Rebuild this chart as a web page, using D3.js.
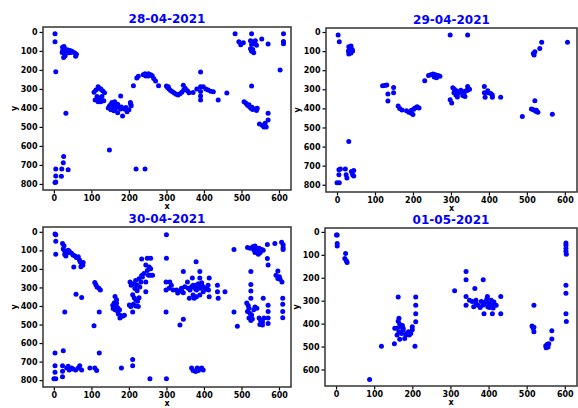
<!DOCTYPE html>
<html>
<head>
<meta charset="utf-8">
<script src="https://cdn.jsdelivr.net/npm/d3@7"></script>
<style>
  body { margin: 0; background: #fff; }
  text { font-family: "DejaVu Sans", sans-serif; }
</style>
</head>
<body>
<div id="chart"></div>
<script>
// tracked points per day, [x, y]
let titles = ['28-04-2021', '29-04-2021', '30-04-2021', '01-05-2021'];
let xTicks = [0, 100, 200, 300, 400, 500, 600];
let yTicksFull = [0, 100, 200, 300, 400, 500, 600, 700, 800];
let yTicksShort = [0, 100, 200, 300, 400, 500, 600];

let day1 = [
  [3,10],[3,51],[5,210],
  [23,80],[27,77],[30,95],[23,100],[22,108],[27,112],[32,92],[35,100],[38,95],[42,98],[45,100],[48,102],[45,108],[29,100],[30,125],[26,135],[40,110],[55,110],[60,118],[58,128],
  [32,428],
  [3,793],[5,790],[5,758],[5,722],[20,760],[21,722],[25,688],[26,656],[38,726],
  [107,318],[112,305],[118,288],[125,300],[130,310],[115,340],[122,348],[128,340],[135,320],[110,358],[118,367],[125,367],[133,362],[124,300],
  [178,337],
  [145,400],[148,390],[152,380],[155,372],[158,388],[162,367],[166,392],[170,380],[174,395],[178,405],[152,410],[160,415],[170,425],[183,443],[175,398],[200,410],[205,380],[206,388],[204,372],[192,398],[180,395],[188,405],[163,408],[195,420],
  [148,621],[219,722],[243,722],
  [212,283],[221,243],[225,233],
  [238,225],[243,220],[248,225],[252,220],[258,225],[262,230],[252,232],[245,232],[266,245],[271,258],[279,283],
  [300,284],[303,292],[307,300],[311,308],[316,315],[321,322],[326,328],[331,332],[336,325],[341,318],[346,305],[350,296],[345,280],[356,310],[360,320],[305,288],
  [371,319],[381,300],[391,211],[391,288],[391,314],[391,337],[391,358],[398,288],[405,300],[411,305],[418,312],[425,315],[438,358],[461,322],
  [483,10],[493,51],[498,68],[505,57],[527,10],
  [524,46],[530,52],[537,46],[527,66],[535,60],[540,70],[524,88],[530,92],[527,102],[533,109],
  [554,37],[571,64],[612,10],[612,50],[612,62],[603,200],[527,284],
  [507,367],[512,375],[516,386],[521,392],[525,402],[530,408],[537,405],[542,402],[520,383],[528,397],[540,414],
  [571,428],[571,463],[548,485],[556,492],[563,480],[566,500],[560,500]
];

let day2 = [
  [3,16],[6,51],
  [31,77],[37,73],[35,90],[30,100],[41,100],[31,115],[37,110],[40,92],
  [31,574],
  [0,789],[6,790],[5,748],[5,722],[9,717],[22,717],[24,748],[26,765],[38,731],[44,725],[41,748],[44,754],
  [120,282],[126,280],[131,278],[134,325],[134,361],[149,290],[149,318],
  [161,387],[165,400],[171,408],[183,412],[189,420],[196,410],[202,405],[205,398],[211,392],[200,432],[196,425],[216,398],
  [231,255],
  [241,228],[247,224],[253,220],[259,224],[266,228],[271,232],[256,235],[262,240],
  [298,16],[344,16],
  [305,292],[309,300],[314,308],[308,318],[318,322],[322,314],[326,305],[331,312],[335,318],[340,308],[344,305],[349,300],[344,285],[317,340],[331,332],[337,338],[298,355],[302,372],[313,330],
  [388,286],[397,308],[405,322],[409,330],[388,318],[390,342],[409,342],[431,342],[398,318],
  [488,443],[512,403],[517,407],[523,415],[529,420],[525,410],[521,360],[567,431],
  [517,112],[519,120],[521,103],[534,86],[539,54],[607,54]
];

let day3 = [
  [3,12],[5,16],[5,51],[5,121],
  [23,63],[27,75],[25,93],[29,105],[34,115],[32,130],[38,100],[42,110],[47,115],[51,125],[56,130],[60,138],[65,135],[68,150],[70,162],[74,172],[77,180],[72,188],[78,165],[53,190],[41,105],[29,123],
  [59,337],[74,354],[29,432],
  [109,274],[112,285],[115,298],[120,305],[124,314],[121,432],[107,507],
  [163,349],[167,367],[161,382],[157,396],[165,402],[170,410],[175,420],[163,420],[158,414],[172,443],[178,452],[183,456],[188,450],[176,465],[170,430],[167,385],
  [210,432],[203,270],
  [234,146],[249,142],[258,142],[245,179],[254,190],[258,199],[249,208],[240,225],[234,235],[227,253],[218,262],[213,280],[206,288],[222,288],[232,270],[216,306],[229,298],[236,244],[252,234],[258,234],[263,234],[245,270],[222,318],[245,323],
  [210,340],[214,356],[218,366],[223,375],[227,356],[212,390],[218,400],[225,403],[205,403],[201,395],
  [210,688],[210,723],[180,735],
  [3,653],[25,642],[3,722],[3,757],[5,792],[0,792],[23,722],[23,752],[23,782],
  [34,735],[41,745],[47,735],[51,740],[58,745],[65,735],[69,722],[74,745],[38,725],[96,735],[109,735],[114,748],[121,653],
  [256,793],[300,793],[300,16],[300,142],[299,270],[299,314],[299,432],
  [379,161],[389,214],[345,214],
  [309,270],[313,288],[307,305],[318,314],[327,314],[336,320],[340,305],[345,328],[349,296],[356,270],[358,305],[363,314],[367,296],[371,288],[376,305],[380,314],[385,296],[389,305],[394,288],[398,296],[403,310],[407,305],[411,288],[414,249],[389,249],[369,249],[412,314],[371,341],[380,350],[389,341],[361,358],[374,358],[414,350],[436,288],[436,323],[438,358],[456,323],[398,323],[385,280],[394,275],[378,288],[340,314],[330,330],
  [336,502],[345,472],
  [367,735],[371,748],[378,753],[385,748],[389,740],[394,735],[398,745],[382,735],
  [480,95],[480,432],[489,509],
  [516,84],[523,88],[530,80],[536,77],[541,88],[545,95],[540,102],[533,97],[550,112],[545,121],[554,95],[558,100],[547,88],[536,112],
  [569,68],[589,63],[607,56],[611,70],[611,86],[611,95],[569,144],[571,179],
  [525,214],[525,284],[525,319],[525,358],
  [514,384],[518,398],[520,412],[516,430],[523,440],[527,448],[520,465],[529,470],[536,405],[541,412],[547,465],[551,478],[556,485],[549,500],[556,502],[560,465],[525,478],[533,420],
  [558,358],[571,396],[571,430],[571,465],[571,495],
  [597,211],[592,234],[597,252],[603,256],[608,270],[601,242],
  [610,358],[610,390],[610,430],[610,463]
];

let day4 = [
  [1,13],[3,13],[3,51],[3,62],
  [25,94],[23,116],[27,126],[29,133],
  [163,284],[209,284],[209,320],[209,357],[209,392],
  [165,377],[163,390],[167,403],[160,420],[170,414],[174,408],[154,420],[165,435],[172,443],[160,450],[180,465],[167,468],[185,443],[190,435],[196,443],[192,450],[200,427],[176,427],[183,450],[200,414],[176,420],
  [119,499],[153,488],[207,499],[88,644],
  [311,257],[341,173],[341,209],[386,209],[364,247],[432,282],
  [341,282],[350,298],[357,303],[341,320],[361,326],[367,310],[372,320],[378,330],[385,320],[389,314],[392,303],[396,290],[398,326],[401,310],[407,298],[410,320],[414,306],[420,320],[367,298],[381,303],[402,330],[412,332],[397,282],
  [388,357],[410,357],[432,357],
  [519,320],[514,410],[519,416],[519,435],[517,420],
  [550,497],[554,490],[556,502],[551,505],[558,488],[566,467],[566,431],
  [603,48],[603,58],[603,72],[603,86],[604,98],[603,233],[603,268],[603,357],[604,391]
];

let panels = [
  {data: day1, title: titles[0], left: 43, right: 291, top: 27, bottom: 190, xDom: [-29, 632], yDom: [-26, 832], yTicks: yTicksFull},
  {data: day2, title: titles[1], left: 326, right: 577, top: 28, bottom: 192, xDom: [-29, 632], yDom: [-21, 838], yTicks: yTicksFull},
  {data: day3, title: titles[2], left: 43, right: 291, top: 227, bottom: 387, xDom: [-29, 632], yDom: [-26, 837], yTicks: yTicksFull},
  {data: day4, title: titles[3], left: 325, right: 577, top: 228, bottom: 386, xDom: [-29, 632], yDom: [-17, 672], yTicks: yTicksShort}
];

let svg = d3.select('#chart')
  .append('svg')
  .attr('width', 578)
  .attr('height', 408)
  .style('background-color', '#fff');

panels.forEach(function(p) {
  let xScale = d3.scaleLinear().domain(p.xDom).range([p.left, p.right]);
  let yScale = d3.scaleLinear().domain(p.yDom).range([p.top, p.bottom]); // y grows downward

  let g = svg.append('g');

  // points
  g.selectAll('circle')
    .data(p.data)
    .enter()
    .append('circle')
    .attr('cx', d => xScale(d[0]))
    .attr('cy', d => yScale(d[1]))
    .attr('r', 2.5)
    .attr('fill', '#0000ff');

  // axes
  let xAxis = g.append('g')
    .attr('transform', `translate(0,${p.bottom})`)
    .call(d3.axisBottom(xScale).tickValues(xTicks).tickSize(3.5).tickPadding(2).tickSizeOuter(0));
  let yAxis = g.append('g')
    .attr('transform', `translate(${p.left},0)`)
    .call(d3.axisLeft(yScale).tickValues(p.yTicks).tickSize(3.5).tickPadding(2).tickSizeOuter(0));
  [xAxis, yAxis].forEach(function(a) {
    a.select('.domain').remove();
    a.selectAll('line').attr('stroke', '#000').attr('stroke-width', 1.2);
    a.selectAll('text')
      .attr('fill', '#000')
      .style('font-size', '8px')
      .style('font-weight', 'bold');
  });

  // frame
  g.append('rect')
    .attr('x', p.left)
    .attr('y', p.top)
    .attr('width', p.right - p.left)
    .attr('height', p.bottom - p.top)
    .attr('fill', 'none')
    .attr('stroke', '#333')
    .attr('stroke-width', 1.5);

  // title and axis labels
  g.append('text')
    .attr('x', (p.left + p.right) / 2)
    .attr('y', p.top - 4)
    .attr('text-anchor', 'middle')
    .attr('fill', '#0000ff')
    .style('font-size', '12px')
    .style('font-weight', 'bold')
    .text(p.title);

  g.append('text')
    .attr('x', (p.left + p.right) / 2)
    .attr('y', Math.min(p.bottom + 19, 406))
    .attr('text-anchor', 'middle')
    .style('font-size', '8px')
    .style('font-weight', 'bold')
    .text('x');

  g.append('text')
    .attr('transform', `translate(${p.left - 26},${(p.top + p.bottom) / 2}) rotate(-90)`)
    .attr('text-anchor', 'middle')
    .style('font-size', '8px')
    .style('font-weight', 'bold')
    .text('y');
});
</script>
</body>
</html>
